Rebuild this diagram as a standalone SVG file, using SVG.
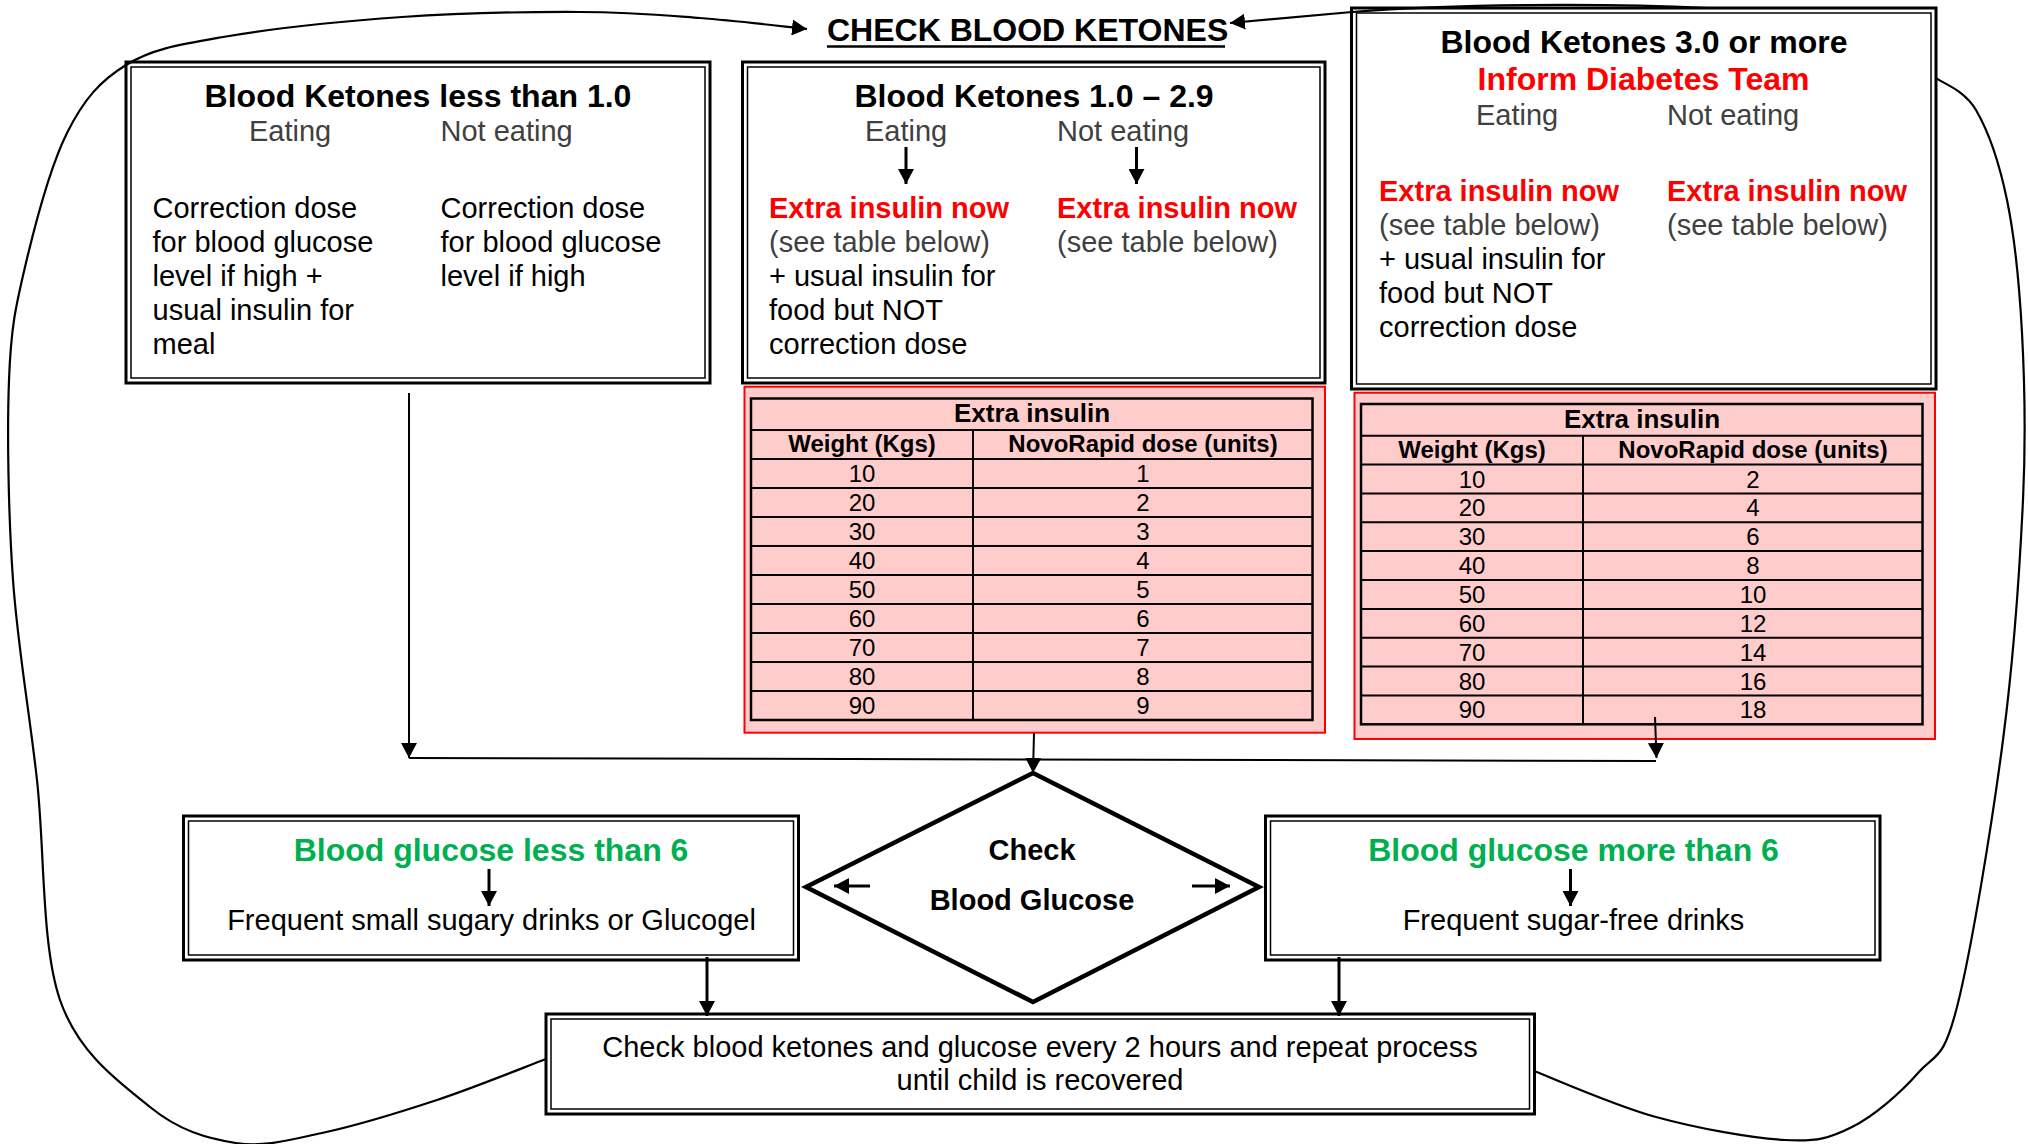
<svg xmlns="http://www.w3.org/2000/svg" width="2028" height="1144" viewBox="0 0 2028 1144">
<style>
text{font-family:"Liberation Sans",Arial,sans-serif}
.h{font-weight:bold;font-size:32px;fill:#000}
.b{font-size:29px;fill:#000}
.g{font-size:29px;fill:#404040}
.r{font-weight:bold;font-size:29px;fill:#FF0000}
.gr{font-weight:bold;font-size:32px;fill:#00B050}
.tt{font-weight:bold;font-size:26px;fill:#000}
.th{font-weight:bold;font-size:24px;fill:#000}
.td{font-size:24px;fill:#000}
.c{text-anchor:middle}
.o{fill:#fff;stroke:#000;stroke-width:3}
.i{fill:none;stroke:#000;stroke-width:1.5}
.pk{fill:#FFCCCC;stroke:#FF0000;stroke-width:2}
.tb{fill:none;stroke:#000;stroke-width:2.5}
.tl{stroke:#000;stroke-width:2}
.ln{stroke:#000;stroke-width:2;fill:none}
.lp{stroke:#000;stroke-width:2.2;fill:none}
.ar{stroke:#000;stroke-width:2;fill:none;marker-end:url(#ah)}
.ab{stroke:#000;stroke-width:3;fill:none;marker-end:url(#ah)}
</style>
<defs>
<marker id="ah" markerUnits="userSpaceOnUse" markerWidth="16" markerHeight="16" refX="15" refY="8" orient="auto">
<path d="M0,0 L15,8 L0,16 z" fill="#000"/>
</marker>
</defs>
<rect width="2028" height="1144" fill="#fff"/>

<g id="title">
<text class="h" x="827" y="41">CHECK BLOOD KETONES</text>
<line x1="827" y1="46.5" x2="1225" y2="46.5" stroke="#000" stroke-width="2.5"/>
</g>

<g id="box-low">
<rect class="o" x="126" y="62" width="584" height="321"/>
<rect class="i" x="131" y="67" width="574" height="311"/>
<text class="h c" x="418" y="107">Blood Ketones less than 1.0</text>
<text class="g" x="249" y="141">Eating</text>
<text class="g" x="440.5" y="141">Not eating</text>
<text class="b" x="152.5" y="218">Correction dose</text>
<text class="b" x="152.5" y="252">for blood glucose</text>
<text class="b" x="152.5" y="286">level if high +</text>
<text class="b" x="152.5" y="320">usual insulin for</text>
<text class="b" x="152.5" y="354">meal</text>
<text class="b" x="440.5" y="218">Correction dose</text>
<text class="b" x="440.5" y="252">for blood glucose</text>
<text class="b" x="440.5" y="286">level if high</text>
</g>

<g id="box-mid">
<rect class="o" x="742.5" y="62" width="582.5" height="321"/>
<rect class="i" x="747.5" y="67" width="572.5" height="311"/>
<text class="h c" x="1034" y="107">Blood Ketones 1.0 – 2.9</text>
<text class="g" x="865" y="141">Eating</text>
<text class="g" x="1057" y="141">Not eating</text>
<text class="r" x="769" y="218">Extra insulin now</text>
<text class="g" x="769" y="252">(see table below)</text>
<text class="b" x="769" y="286">+ usual insulin for</text>
<text class="b" x="769" y="320">food but NOT</text>
<text class="b" x="769" y="354">correction dose</text>
<text class="r" x="1057" y="218">Extra insulin now</text>
<text class="g" x="1057" y="252">(see table below)</text>
</g>

<g id="box-high">
<rect class="o" x="1351.5" y="8" width="584.5" height="381"/>
<rect class="i" x="1356.5" y="13" width="574.5" height="371"/>
<text class="h c" x="1644" y="53">Blood Ketones 3.0 or more</text>
<text class="h c" x="1643.5" y="90" style="fill:#FF0000">Inform Diabetes Team</text>
<text class="g" x="1476" y="125">Eating</text>
<text class="g" x="1667" y="125">Not eating</text>
<text class="r" x="1379" y="201">Extra insulin now</text>
<text class="g" x="1379" y="235">(see table below)</text>
<text class="b" x="1379" y="269">+ usual insulin for</text>
<text class="b" x="1379" y="303">food but NOT</text>
<text class="b" x="1379" y="337">correction dose</text>
<text class="r" x="1667" y="201">Extra insulin now</text>
<text class="g" x="1667" y="235">(see table below)</text>
</g>

<g id="table-mid">
<rect class="pk" x="744.5" y="386.7" width="580.5" height="346"/>
<rect class="tb" x="751" y="398.5" width="561.5" height="321.5"/>
<g class="tl">
<line x1="751" y1="430" x2="1312.5" y2="430"/>
<line x1="751" y1="459" x2="1312.5" y2="459"/>
<line x1="751" y1="488" x2="1312.5" y2="488"/>
<line x1="751" y1="517" x2="1312.5" y2="517"/>
<line x1="751" y1="546" x2="1312.5" y2="546"/>
<line x1="751" y1="575" x2="1312.5" y2="575"/>
<line x1="751" y1="604" x2="1312.5" y2="604"/>
<line x1="751" y1="633" x2="1312.5" y2="633"/>
<line x1="751" y1="662" x2="1312.5" y2="662"/>
<line x1="751" y1="691" x2="1312.5" y2="691"/>
<line x1="973" y1="430" x2="973" y2="720"/>
</g>
<text class="tt c" x="1032" y="422">Extra insulin</text>
<text class="th c" x="862" y="452">Weight (Kgs)</text>
<text class="th c" x="1143" y="452">NovoRapid dose (units)</text>
<g class="td c">
<text class="td c" x="862" y="482">10</text><text class="td c" x="1143" y="482">1</text>
<text class="td c" x="862" y="511">20</text><text class="td c" x="1143" y="511">2</text>
<text class="td c" x="862" y="540">30</text><text class="td c" x="1143" y="540">3</text>
<text class="td c" x="862" y="569">40</text><text class="td c" x="1143" y="569">4</text>
<text class="td c" x="862" y="598">50</text><text class="td c" x="1143" y="598">5</text>
<text class="td c" x="862" y="627">60</text><text class="td c" x="1143" y="627">6</text>
<text class="td c" x="862" y="656">70</text><text class="td c" x="1143" y="656">7</text>
<text class="td c" x="862" y="685">80</text><text class="td c" x="1143" y="685">8</text>
<text class="td c" x="862" y="714">90</text><text class="td c" x="1143" y="714">9</text>
</g>
</g>

<g id="table-high">
<rect class="pk" x="1354.5" y="392.7" width="580.5" height="346.3"/>
<rect class="tb" x="1361" y="404" width="561.5" height="320.3"/>
<g class="tl">
<line x1="1361" y1="435.7" x2="1922.5" y2="435.7"/>
<line x1="1361" y1="464.6" x2="1922.5" y2="464.6"/>
<line x1="1361" y1="493.4" x2="1922.5" y2="493.4"/>
<line x1="1361" y1="522.3" x2="1922.5" y2="522.3"/>
<line x1="1361" y1="551.1" x2="1922.5" y2="551.1"/>
<line x1="1361" y1="580" x2="1922.5" y2="580"/>
<line x1="1361" y1="608.9" x2="1922.5" y2="608.9"/>
<line x1="1361" y1="637.7" x2="1922.5" y2="637.7"/>
<line x1="1361" y1="666.6" x2="1922.5" y2="666.6"/>
<line x1="1361" y1="695.4" x2="1922.5" y2="695.4"/>
<line x1="1583" y1="435.7" x2="1583" y2="724.3"/>
</g>
<text class="tt c" x="1642" y="428">Extra insulin</text>
<text class="th c" x="1472" y="458">Weight (Kgs)</text>
<text class="th c" x="1753" y="458">NovoRapid dose (units)</text>
<text class="td c" x="1472" y="487.6">10</text><text class="td c" x="1753" y="487.6">2</text>
<text class="td c" x="1472" y="516.4">20</text><text class="td c" x="1753" y="516.4">4</text>
<text class="td c" x="1472" y="545.3">30</text><text class="td c" x="1753" y="545.3">6</text>
<text class="td c" x="1472" y="574.1">40</text><text class="td c" x="1753" y="574.1">8</text>
<text class="td c" x="1472" y="603">50</text><text class="td c" x="1753" y="603">10</text>
<text class="td c" x="1472" y="631.9">60</text><text class="td c" x="1753" y="631.9">12</text>
<text class="td c" x="1472" y="660.7">70</text><text class="td c" x="1753" y="660.7">14</text>
<text class="td c" x="1472" y="689.6">80</text><text class="td c" x="1753" y="689.6">16</text>
<text class="td c" x="1472" y="718.4">90</text><text class="td c" x="1753" y="718.4">18</text>
</g>

<g id="decision">
<path d="M1033,773 L1259,887 L1033,1002 L806,887 Z" fill="#fff" stroke="#000" stroke-width="4.5" stroke-linejoin="miter"/>
<text class="b c" x="1032" y="860" style="font-weight:bold">Check</text>
<text class="b c" x="1032" y="910" style="font-weight:bold">Blood Glucose</text>
</g>

<g id="glucose-low">
<rect class="o" x="183.5" y="816" width="615" height="144"/>
<rect class="i" x="188.5" y="821" width="605" height="134"/>
<text class="gr c" x="491" y="861">Blood glucose less than 6</text>
<text class="b c" x="491.5" y="930">Frequent small sugary drinks or Glucogel</text>
</g>

<g id="glucose-high">
<rect class="o" x="1265.5" y="816" width="614.5" height="144"/>
<rect class="i" x="1270.5" y="821" width="604.5" height="134"/>
<text class="gr c" x="1573.5" y="861">Blood glucose more than 6</text>
<text class="b c" x="1573.5" y="930">Frequent sugar-free drinks</text>
</g>

<g id="repeat">
<rect class="o" x="546" y="1014" width="988.5" height="100"/>
<rect class="i" x="551" y="1019" width="978.5" height="90"/>
<text class="b c" x="1040" y="1057">Check blood ketones and glucose every 2 hours and repeat process</text>
<text class="b c" x="1040" y="1090">until child is recovered</text>
</g>

<g id="connectors">
<path class="ar" d="M409,393 L409,758"/>
<path class="ln" d="M409,758 L1656,761"/>
<path class="ar" d="M1034,733 L1033,773"/>
<path class="ar" d="M1655,717 L1656.5,758"/>
<path class="ab" d="M707,957 L707,1016"/>
<path class="ab" d="M1339,957 L1339,1016"/>
<path class="ab" d="M870,886 L834,886"/>
<path class="ab" d="M1192,886 L1230,886"/>
<path class="ab" d="M906,147 L906,184"/>
<path class="ab" d="M1136.5,147 L1136.5,184"/>
<path class="ab" d="M489,869 L489,906"/>
<path class="ab" d="M1570.5,869 L1570.5,906"/>
<path class="lp" style="marker-end:url(#ah)" d="M546,1059 C527.8,1065.8 474.3,1087.7 437,1100 C399.7,1112.3 355.5,1125.8 322,1133 C288.5,1140.2 264.7,1147.3 236,1143 C207.3,1138.7 179.3,1130.8 150,1107 C120.7,1083.2 78.8,1054.5 60,1000 C41.2,945.5 44.8,850 37,780 C29.2,710 17.7,646.7 13,580 C8.3,513.3 7,432.2 9,380 C11,327.8 15.3,308.2 25,267 C34.7,225.8 50.2,166.7 67,133 C83.8,99.3 100,81 126,65 C152,49 177,45 223,37 C269,29 342.5,21.2 402,17 C461.5,12.8 530.3,11.8 580,12 C629.7,12.2 662.2,15.2 700,18 C737.8,20.8 789.2,27.2 807,29"/>
<path class="lp" d="M1534,1071 C1554.3,1078.7 1614.2,1105.5 1656,1117 C1697.8,1128.5 1752.3,1138.3 1785,1140 C1817.7,1141.7 1829.8,1138.2 1852,1127 C1874.2,1115.8 1900.5,1093 1918,1073 C1935.5,1053 1942.8,1062.5 1957,1007 C1971.2,951.5 1992,824.5 2003,740 C2014,655.5 2019.8,567.8 2023,500 C2026.2,432.2 2024.7,383 2022,333 C2019.3,283 2014.7,237.2 2007,200 C1999.3,162.8 1987.8,130.3 1976,110 C1964.2,89.7 1942.7,83.3 1936,78"/>
<path class="lp" style="marker-end:url(#ah)" d="M1708,8 C1600,3 1450,4 1352,12 L1230,23"/>
</g>
</svg>
